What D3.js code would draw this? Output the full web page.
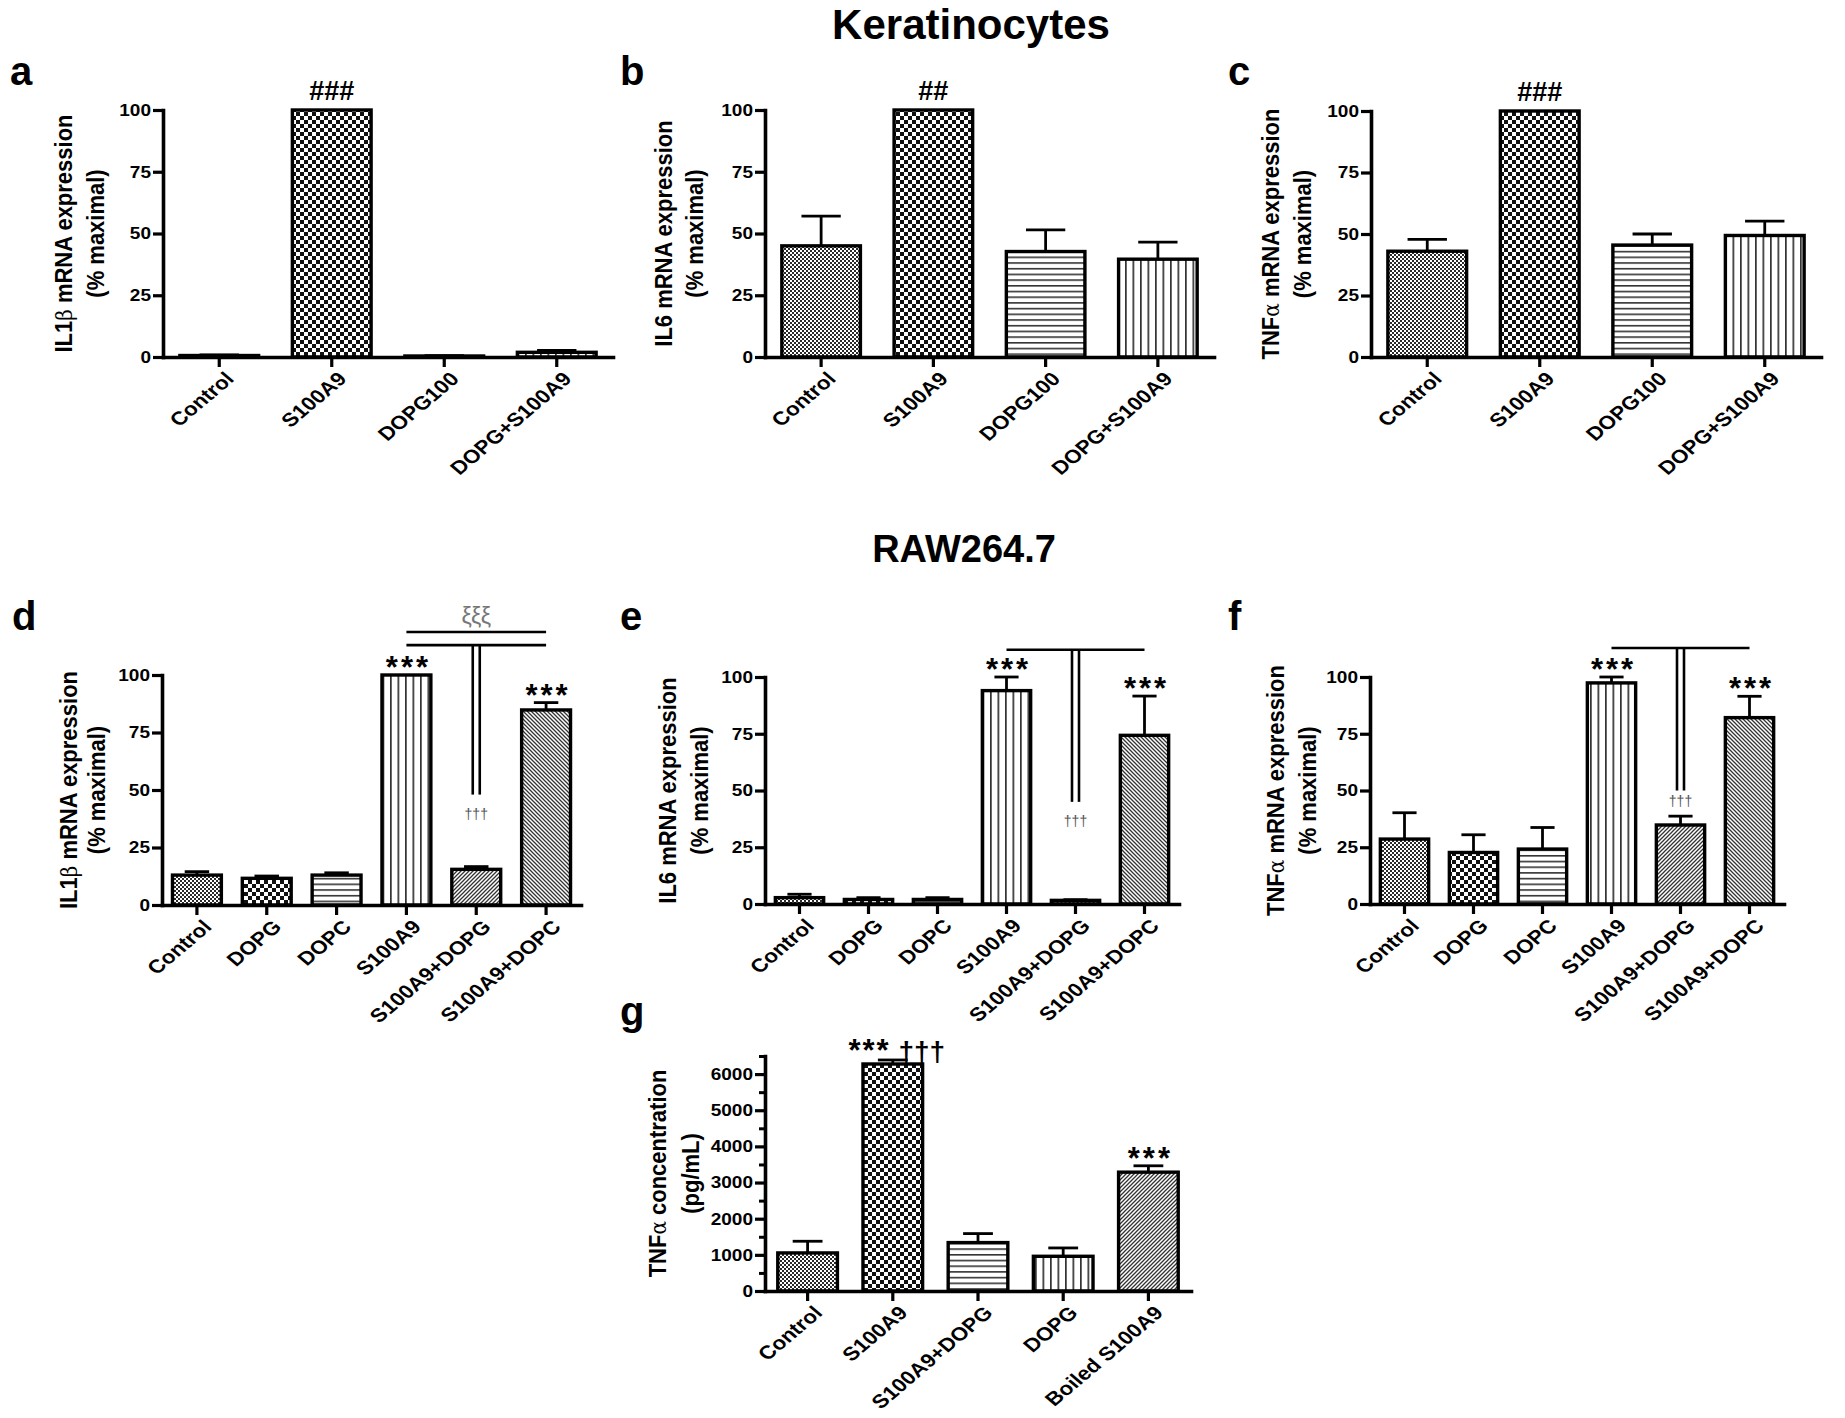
<!DOCTYPE html>
<html><head><meta charset="utf-8">
<script src="https://cdn.jsdelivr.net/npm/d3@7"></script>
<style>
body{margin:0;background:#fff}
svg{display:block}
text{font-family:"Liberation Sans",Arial,Helvetica,sans-serif}
</style>
</head><body>
<svg id="chart" width="1845" height="1418"></svg>
<script>
// ---------------- DATA ----------------
const categoriesKeratinocytes = ["Control","S100A9","DOPG100","DOPG+S100A9"];
const categoriesRAW = ["Control","DOPG","DOPC","S100A9","S100A9+DOPG","S100A9+DOPC"];
const categoriesELISA = ["Control","S100A9","S100A9+DOPG","DOPG","Boiled S100A9"];

const valuesA = [0.6, 100, 0.4, 1.9];
const errorsA = [0.2, 0, 0.1, 0.8];
const valuesB = [45, 100, 42.7, 39.6];
const errorsB = [12, 0, 8.8, 6.9];
const valuesC = [43, 100, 45.5, 49.4];
const errorsC = [4.8, 0, 4.5, 5.8];
const valuesD = [13, 11.6, 13, 100, 15.5, 84.8];
const errorsD = [1.5, 1.0, 1.0, 0, 1.2, 3.2];
const valuesE = [2.8, 2.0, 2.0, 94, 1.6, 74.3];
const errorsE = [1.5, 0.8, 0.8, 6, 0.3, 17.3];
const valuesF = [28.6, 22.7, 24.2, 97.4, 34.8, 82.1];
const errorsF = [11.6, 7.8, 9.5, 2.6, 3.9, 9.4];
const valuesG = [1053, 6279, 1339, 960, 3287];
const errorsG = [323, 111, 249, 231, 176];

const percentTicks = [0, 25, 50, 75, 100];
const concTicks = [0, 1000, 2000, 3000, 4000, 5000, 6000];
const concMinorTicks = [500, 1500, 2500, 3500, 4500, 5500, 6500];

const patternsKeratinocytes = ["fine","coarse","hlines","vlines"];
const patternsRAW = ["fine","coarse","hlines","vlines","fdiag","bdiag"];
const patternsELISA = ["fine","coarse","hlines","vlines","fdiag"];

// significance marks: [category, label]
const marksA = [["S100A9","###"]];
const marksB = [["S100A9","##"]];
const marksC = [["S100A9","###"]];
const marksD = [["S100A9","***"],["S100A9+DOPC","***"]];
const marksE = [["S100A9","***"],["S100A9+DOPC","***"]];
const marksF = [["S100A9","***"],["S100A9+DOPC","***"]];
const marksG = [["Boiled S100A9","***"]];

// ---------------- DRAW ----------------
const svg = d3.select("#chart");
svg.append("rect").attr("width",1845).attr("height",1418).attr("fill","#fff");
const defs = svg.append("defs");

function addPattern(id, w, h, build){
  const p = defs.append("pattern").attr("id",id).attr("patternUnits","userSpaceOnUse")
    .attr("width",w).attr("height",h);
  p.append("rect").attr("width",w).attr("height",h).attr("fill","#fff");
  build(p);
}
addPattern("fine",4,4,p=>{
  p.append("rect").attr("x",0).attr("y",0).attr("width",2).attr("height",2).attr("fill","#2a2a2a");
  p.append("rect").attr("x",2).attr("y",2).attr("width",2).attr("height",2).attr("fill","#2a2a2a");
});
addPattern("coarse",8,8,p=>{
  p.append("rect").attr("x",0).attr("y",0).attr("width",4).attr("height",4).attr("fill","#111");
  p.append("rect").attr("x",4).attr("y",4).attr("width",4).attr("height",4).attr("fill","#111");
});
addPattern("hlines",8,5.7,p=>{
  p.append("rect").attr("x",0).attr("y",0).attr("width",8).attr("height",1.6).attr("fill","#333");
});
addPattern("vlines",7.5,8,p=>{
  p.append("rect").attr("x",0).attr("y",0).attr("width",1.7).attr("height",8).attr("fill","#333");
});
addPattern("fdiag",4,4,p=>{
  p.append("path").attr("d","M-1,1 L1,-1 M0,4 L4,0 M3,5 L5,3").attr("stroke","#333").attr("stroke-width",1.3);
});
addPattern("bdiag",4,4,p=>{
  p.append("path").attr("d","M-1,3 L1,5 M0,0 L4,4 M3,-1 L5,1").attr("stroke","#333").attr("stroke-width",1.3);
});

const FONT = '"Liberation Sans",Arial,sans-serif';

function drawPanel(c){
  const g = svg.append("g");
  const x = d3.scaleBand().domain(c.categories).range([c.x0, c.x1]).paddingInner(0.3).paddingOuter(0.15);
  const y = d3.scaleLinear().domain([0, c.yMax]).range([c.y0, c.yTop]);
  const bw = x.bandwidth();
  const cx = d => x(d) + bw/2;

  // bars
  c.categories.forEach((cat,i)=>{
    const v = c.values[i];
    g.append("rect").attr("x",x(cat)).attr("y",y(v)).attr("width",bw)
      .attr("height",Math.max(0,c.y0 - y(v)))
      .attr("fill",`url(#${c.patterns[i]})`).attr("stroke","#000").attr("stroke-width",3.4);
    const e = c.errors[i];
    if(e>0){
      g.append("line").attr("x1",cx(cat)).attr("x2",cx(cat)).attr("y1",y(v)).attr("y2",y(v+e))
        .attr("stroke","#000").attr("stroke-width",2.8);
      g.append("line").attr("x1",cx(cat)-bw/4).attr("x2",cx(cat)+bw/4).attr("y1",y(v+e)).attr("y2",y(v+e))
        .attr("stroke","#000").attr("stroke-width",2.8);
    }
  });

  // y axis
  const ya = g.append("g").attr("transform",`translate(${c.x0},0)`)
    .call(d3.axisLeft(y).tickValues(c.ticks).tickSize(10).tickSizeOuter(0).tickPadding(2).tickFormat(d3.format("d")));
  if(c.minorTicks){
    g.append("g").attr("transform",`translate(${c.x0},0)`)
      .call(d3.axisLeft(y).tickValues(c.minorTicks).tickSize(6).tickSizeOuter(0).tickFormat(""))
      .call(s=>s.select(".domain").remove())
      .selectAll("line").attr("stroke-width",3);
  }
  ya.select(".domain").attr("stroke-width",3.6).attr("stroke-linecap","square");
  ya.selectAll(".tick line").attr("stroke-width",3.2);
  ya.selectAll(".tick text").attr("font-family",FONT).attr("font-weight","bold").attr("font-size",17).attr("fill","#000")
    .attr("x",0).attr("transform","translate(-12,0) scale(1.12,1)");

  // x axis
  const xa = g.append("g").attr("transform",`translate(0,${c.y0})`)
    .call(d3.axisBottom(x).tickSize(10).tickSizeOuter(0));
  xa.select(".domain").attr("stroke-width",3.6).attr("stroke-linecap","square");
  xa.selectAll(".tick line").attr("stroke-width",3.2);
  xa.selectAll(".tick text").attr("font-family",FONT).attr("font-weight","bold").attr("font-size",19).attr("fill","#000")
    .attr("x",0).attr("y",0).attr("dy",0).attr("text-anchor","end")
    .attr("transform","translate(16,23) scale(1.18,1) rotate(-45)");

  // y title
  const my = (c.y0 + c.yTop)/2;
  c.titleLines.forEach((line,k)=>{
    const t = g.append("text").attr("transform",`translate(${c.x0 + c.titleOffsets[k]},${my}) scale(1.12,1) rotate(-90)`)
      .attr("text-anchor","middle").attr("dy","0.35em").attr("font-family",FONT)
      .attr("font-weight","bold").attr("font-size",22).attr("fill","#000");
    line.forEach(seg=>{
      const ts = t.append("tspan").text(seg.t);
      if(seg.greek){ ts.attr("font-weight","normal").attr("font-family","'DejaVu Serif',serif").attr("font-size",20); }
    });
  });

  // panel letter
  g.append("text").attr("x",c.letterX).attr("y",c.letterY).attr("font-family",FONT)
    .attr("font-weight","bold").attr("font-size",40).attr("fill","#000").text(c.letter);

  // significance marks
  c.marks.forEach(([cat,label])=>{
    const i = c.categories.indexOf(cat);
    const top = y(c.values[i] + c.errors[i]);
    if(label.startsWith("#")){
      g.append("text").attr("x",cx(cat)).attr("y",top - 10).attr("text-anchor","middle")
        .attr("font-family",FONT).attr("font-weight","bold").attr("font-size",27).text(label);
    } else {
      g.append("text").attr("x",cx(cat)+2).attr("y",top + 3).attr("text-anchor","middle")
        .attr("font-family",FONT).attr("font-weight","bold").attr("font-size",31)
        .attr("letter-spacing",3).text(label);
    }
  });
  return {g,x,y,cx,bw};
}

const pctTitle = (name)=>[name, [{t:"(% maximal)"}]];

// Panel a
drawPanel({letter:"a",letterX:10,letterY:85,categories:categoriesKeratinocytes,values:valuesA,errors:errorsA,
  patterns:patternsKeratinocytes,x0:163,x1:613,y0:357,yTop:110,yMax:100,ticks:percentTicks,
  titleLines:pctTitle([{t:"IL1"},{t:"β",greek:true},{t:" mRNA expression"}]),titleOffsets:[-100,-68],marks:marksA});
// Panel b
drawPanel({letter:"b",letterX:620,letterY:85,categories:categoriesKeratinocytes,values:valuesB,errors:errorsB,
  patterns:patternsKeratinocytes,x0:765,x1:1214,y0:357,yTop:110,yMax:100,ticks:percentTicks,
  titleLines:pctTitle([{t:"IL6 mRNA expression"}]),titleOffsets:[-102,-71],marks:marksB});
// Panel c
drawPanel({letter:"c",letterX:1228,letterY:85,categories:categoriesKeratinocytes,values:valuesC,errors:errorsC,
  patterns:patternsKeratinocytes,x0:1371,x1:1821,y0:357,yTop:111,yMax:100,ticks:percentTicks,
  titleLines:pctTitle([{t:"TNF"},{t:"α",greek:true},{t:" mRNA expression"}]),titleOffsets:[-101,-69],marks:marksC});
// Panel d
const pd = drawPanel({letter:"d",letterX:12,letterY:630,categories:categoriesRAW,values:valuesD,errors:errorsD,
  patterns:patternsRAW,x0:162,x1:581,y0:905,yTop:675,yMax:100,ticks:percentTicks,
  titleLines:pctTitle([{t:"IL1"},{t:"β",greek:true},{t:" mRNA expression"}]),titleOffsets:[-94,-66],marks:marksD});
// Panel e
const pe = drawPanel({letter:"e",letterX:620,letterY:630,categories:categoriesRAW,values:valuesE,errors:errorsE,
  patterns:patternsRAW,x0:765,x1:1179,y0:904,yTop:677,yMax:100,ticks:percentTicks,
  titleLines:pctTitle([{t:"IL6 mRNA expression"}]),titleOffsets:[-98,-66],marks:marksE});
// Panel f
const pf = drawPanel({letter:"f",letterX:1228,letterY:630,categories:categoriesRAW,values:valuesF,errors:errorsF,
  patterns:patternsRAW,x0:1370,x1:1784,y0:904,yTop:677,yMax:100,ticks:percentTicks,
  titleLines:pctTitle([{t:"TNF"},{t:"α",greek:true},{t:" mRNA expression"}]),titleOffsets:[-95,-63],marks:marksF});
// Panel g
const pg = drawPanel({letter:"g",letterX:620,letterY:1025,categories:categoriesELISA,values:valuesG,errors:errorsG,
  patterns:patternsELISA,x0:765,x1:1191,y0:1291,yTop:1056,yMax:6500,ticks:concTicks,minorTicks:concMinorTicks,
  titleLines:[[{t:"TNF"},{t:"α",greek:true},{t:"  concentration"}],[{t:"(pg/mL)"}]],titleOffsets:[-108,-75],marks:marksG});

// g: "*** †††" over S100A9
{
  const i = 1, cat = categoriesELISA[i];
  const top = pg.y(valuesG[i] + errorsG[i]);
  const t = pg.g.append("text").attr("x",pg.cx(cat)+4).attr("y",top+1).attr("text-anchor","middle")
    .attr("font-family",FONT).attr("font-weight","bold").attr("fill","#000");
  t.append("tspan").attr("font-size",31).attr("letter-spacing",2).text("***");
  t.append("tspan").attr("font-size",28).text(" †††");
}

// brackets for RAW panels
function bracket(p, lineVals, stemBottom, daggerVal, xi){
  const a = p.cx("S100A9"), b = p.cx("S100A9+DOPC"), m = p.cx("S100A9+DOPG");
  const yl = p.y(lineVals[lineVals.length-1]);
  const st = {stroke:"#000","stroke-width":2.6,fill:"none"};
  lineVals.forEach((lv)=>{
    const path = p.g.append("path").attr("d",`M${a},${p.y(lv)}H${b}`);
    Object.entries(st).forEach(([k2,v])=>path.attr(k2,v));
  });
  [m-3.5, m+3.5].forEach(xx=>{
    const l = p.g.append("path").attr("d",`M${xx},${yl}V${p.y(stemBottom)}`);
    Object.entries(st).forEach(([k2,v])=>l.attr(k2,v));
  });
  p.g.append("text").attr("x",m).attr("y",p.y(daggerVal)+4).attr("text-anchor","middle")
    .attr("font-family","'DejaVu Sans',sans-serif").attr("font-size",14).attr("fill","#555").text("†††");
  if(xi){
    p.g.append("text").attr("x",(a+b)/2).attr("y",p.y(lineVals[0]) - 8).attr("text-anchor","middle")
      .attr("font-family","'DejaVu Serif',serif").attr("font-size",23).attr("fill","#777").text("ξξξ");
  }
}
bracket(pd,[118.7,113],48,39,true);
bracket(pe,[112],45,36,false);
bracket(pf,[112.8],50,45,false);

// section titles
svg.append("text").attr("x",971).attr("y",39).attr("text-anchor","middle").attr("font-family",FONT)
  .attr("font-weight","bold").attr("font-size",42).text("Keratinocytes");
svg.append("text").attr("x",964).attr("y",562).attr("text-anchor","middle").attr("font-family",FONT)
  .attr("font-weight","bold").attr("font-size",38).text("RAW264.7");
</script>
</body></html>
